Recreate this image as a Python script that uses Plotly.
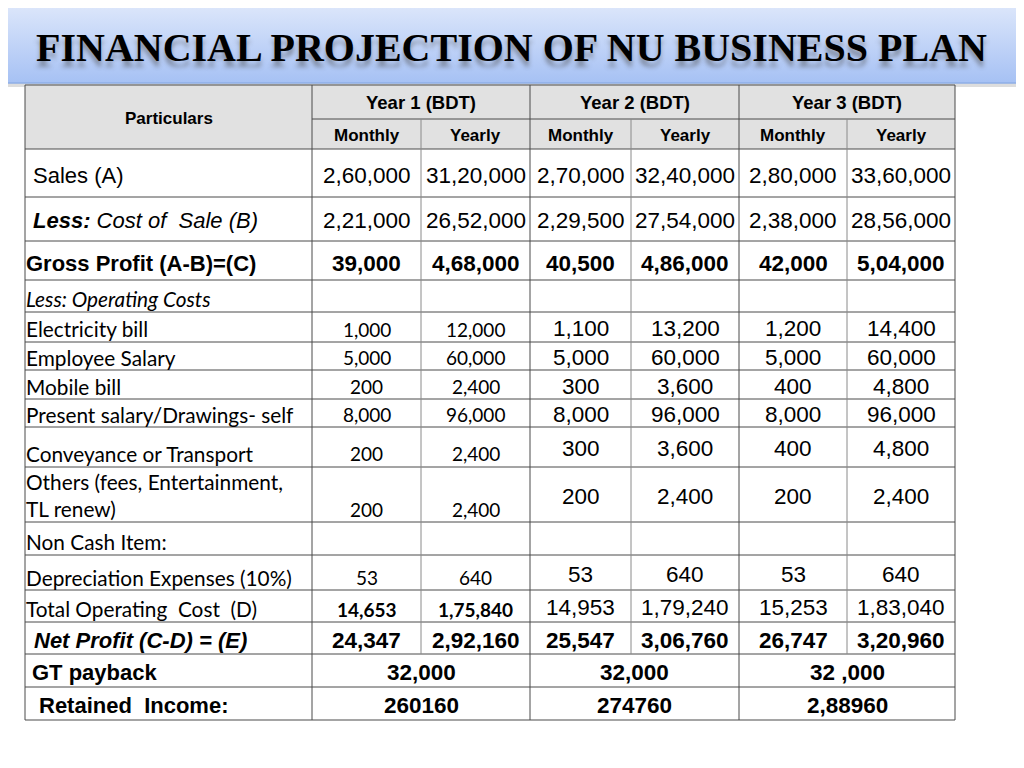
import plotly.graph_objects as go

# ---- data ----
title = "FINANCIAL PROJECTION OF NU BUSINESS PLAN"
years = ["Year 1 (BDT)", "Year 2 (BDT)", "Year 3 (BDT)"]
periods = ["Monthly", "Yearly"]

row_labels = [
    "Sales (A)",
    "<b><i>Less:</i></b><i> Cost of  Sale (B)</i>",
    "Gross Profit (A-B)=(C)",
    "Less: Operating Costs",
    "Electricity bill",
    "Employee Salary",
    "Mobile bill",
    "Present salary/Drawings- self",
    "Conveyance or Transport",
    "Others (fees, Entertainment,<br>TL renew)",
    "Non Cash Item:",
    "Depreciation Expenses (10%)",
    "Total Operating  Cost  (D)",
    "Net Profit (C-D) = (E)",
    "GT payback",
    "Retained  Income:",
]

y1_monthly = ["2,60,000", "2,21,000", "39,000", "", "1,000", "5,000", "200", "8,000",
              "200", "200", "", "53", "14,653", "24,347"]
y1_yearly = ["31,20,000", "26,52,000", "4,68,000", "", "12,000", "60,000", "2,400", "96,000",
             "2,400", "2,400", "", "640", "1,75,840", "2,92,160"]
y2_monthly = ["2,70,000", "2,29,500", "40,500", "", "1,100", "5,000", "300", "8,000",
              "300", "200", "", "53", "14,953", "25,547"]
y2_yearly = ["32,40,000", "27,54,000", "4,86,000", "", "13,200", "60,000", "3,600", "96,000",
             "3,600", "2,400", "", "640", "1,79,240", "3,06,760"]
y3_monthly = ["2,80,000", "2,38,000", "42,000", "", "1,200", "5,000", "400", "8,000",
              "400", "200", "", "53", "15,253", "26,747"]
y3_yearly = ["33,60,000", "28,56,000", "5,04,000", "", "14,400", "60,000", "4,800", "96,000",
             "4,800", "2,400", "", "640", "1,83,040", "3,20,960"]
gt_payback = ["32,000", "32,000", "32 ,000"]
retained_income = ["260160", "274760", "2,88960"]

# ---- layout of the table (page pixels) ----
col_edges = [25, 312, 421, 530, 631, 739, 847, 955]
row_edges = [85, 119, 149, 197, 241, 280, 312, 342, 370, 399, 427, 467, 522, 555, 590,
             622, 654, 687, 720]

# the page body has an 8px margin, so the figure starts at (8, 8)
PAGE_OFF = 8
PAD = 3  # annotation inner padding

ARIAL = "Liberation Sans, Arial"
CALI = "Lato, Carlito, Calibri"
NUM = 22.5
# per body row: label (font, size, bold, italic, x, y), year-1 style, years-2/3 style
row_style = [
    (ARIAL, 22, False, False, 34, 175, (ARIAL, NUM, False, 175), (ARIAL, NUM, False, 175)),
    (ARIAL, 22, False, False, 34, 220, (ARIAL, NUM, False, 220), (ARIAL, NUM, False, 220)),
    (ARIAL, 22, True, False, 27, 263, (ARIAL, NUM, True, 263), (ARIAL, NUM, True, 263)),
    (CALI, 20.8, False, True, 27, 298, None, None),
    (CALI, 20.8, False, False, 27, 328, (CALI, 19, False, 329), (ARIAL, NUM, False, 328)),
    (CALI, 20.8, False, False, 27, 357, (CALI, 19, False, 357), (ARIAL, NUM, False, 357)),
    (CALI, 20.8, False, False, 27, 386, (CALI, 19, False, 386), (ARIAL, NUM, False, 386)),
    (CALI, 20.8, False, False, 27, 414, (CALI, 19, False, 414), (ARIAL, NUM, False, 414)),
    (CALI, 20.8, False, False, 27, 453, (CALI, 19, False, 453), (ARIAL, NUM, False, 448)),
    (CALI, 20.8, False, False, 27, 495, (CALI, 19, False, 509), (ARIAL, NUM, False, 496)),
    (CALI, 20.8, False, False, 27, 541, None, None),
    (CALI, 20.8, False, False, 27, 577, (CALI, 19, False, 577), (ARIAL, NUM, False, 574)),
    (CALI, 20.8, False, False, 27, 608, (CALI, 19, True, 609), (ARIAL, NUM, False, 607)),
    (ARIAL, 22, True, True, 35, 640, (ARIAL, NUM, True, 640), (ARIAL, NUM, True, 640)),
    (ARIAL, 22, True, False, 33, 672, None, None),
    (ARIAL, 22, True, False, 40, 705, None, None),
]

LINE = "#4a4a4a"
INNER = "#8a8a8a"
HEAD_FILL = "#e1e1e1"

fig = go.Figure()

# title bar with vertical gradient
bar_x = [0, 1021, 1021, 0, 0]
bar_y = [0, 0, 83, 83, 0]
fig.add_trace(go.Scatter(
    x=bar_x, y=bar_y, mode="lines", fill="toself",
    line=dict(color="#8eaee6", width=1.5),
    fillgradient=dict(type="vertical", start=0, stop=83,
                      colorscale=[[0, "#e0e9fb"], [1, "#a6c1f4"]]),
    hoverinfo="skip", showlegend=False,
))

shapes = []
annotations = []

# soft shadow under the bar
shapes.append(dict(type="rect", x0=0, x1=1021, y0=83, y1=87, line_width=0,
                   fillcolor="rgba(120,120,120,0.25)", layer="below"))

# header fill
shapes.append(dict(type="rect", x0=col_edges[0], x1=col_edges[-1], y0=row_edges[0],
                   y1=row_edges[2], line_width=0, fillcolor=HEAD_FILL, layer="below"))

# horizontal rules
for i, y in enumerate(row_edges):
    x0 = col_edges[1] if i == 1 else col_edges[0]
    shapes.append(dict(type="line", x0=x0, x1=col_edges[-1], y0=y, y1=y,
                       line=dict(color=LINE, width=1)))

# vertical rules
for j, x in enumerate(col_edges):
    if j in (0, 1, 3, 5, 7):
        shapes.append(dict(type="line", x0=x, x1=x, y0=row_edges[0], y1=row_edges[-1],
                           line=dict(color=LINE, width=1)))
    else:
        shapes.append(dict(type="line", x0=x, x1=x, y0=row_edges[1], y1=row_edges[-3],
                           line=dict(color=INNER, width=1)))


def txt(text, x, y, family, size, bold=False, italic=False, xanchor="center"):
    annotations.append(dict(
        text=text, x=x, y=y, xref="x", yref="y", showarrow=False,
        xanchor=xanchor, yanchor="middle", align=xanchor if xanchor != "center" else "center",
        font=dict(family=family, size=size, color="#000000",
                  weight="bold" if bold else "normal",
                  style="italic" if italic else "normal"),
    ))


# title
annotations.append(dict(
    text=title, x=511, y=47, xref="x", yref="y", showarrow=False,
    xanchor="center", yanchor="middle",
    font=dict(family="Liberation Serif, Times New Roman, serif", size=40,
              color="#000000", weight="bold",
              shadow="0px 6px 4px rgba(70,70,70,0.45)"),
))

# header texts
txt("Particulars", (col_edges[0] + col_edges[1]) / 2, 118, ARIAL, 17, bold=True)
for k, yr in enumerate(years):
    xa, xb = col_edges[1 + 2 * k], col_edges[3 + 2 * k]
    txt(yr, (xa + xb) / 2, 102, ARIAL, 18.5, bold=True)
    for p, per in enumerate(periods):
        xc = (col_edges[1 + 2 * k + p] + col_edges[2 + 2 * k + p]) / 2
        txt(per, xc, 135, ARIAL, 17, bold=True)

# body
columns = [y1_monthly, y1_yearly, y2_monthly, y2_yearly, y3_monthly, y3_yearly]
for r, label in enumerate(row_labels):
    fam, size, bold, italic, lx, ly, s1, s23 = row_style[r]
    txt(label, lx - PAD, ly, fam, size, bold=bold, italic=italic, xanchor="left")
    if r < len(y1_monthly):
        for c, col in enumerate(columns):
            val = col[r]
            if not val:
                continue
            st = s1 if c < 2 else s23
            xc = (col_edges[1 + c] + col_edges[2 + c]) / 2
            txt(val, xc, st[3], st[0], st[1], bold=st[2])

# merged rows
for r, vals in ((14, gt_payback), (15, retained_income)):
    ly = row_style[r][5]
    for k, v in enumerate(vals):
        xa, xb = col_edges[1 + 2 * k], col_edges[3 + 2 * k]
        txt(v, (xa + xb) / 2, ly, ARIAL, NUM, bold=True)

fig.update_layout(
    width=1024 - PAGE_OFF, height=768 - PAGE_OFF,
    margin=dict(l=0, r=0, t=0, b=0),
    paper_bgcolor="#ffffff", plot_bgcolor="#ffffff",
    xaxis=dict(range=[PAGE_OFF, 1024], visible=False, fixedrange=True),
    yaxis=dict(range=[768, PAGE_OFF], visible=False, fixedrange=True),
    shapes=shapes, annotations=annotations, showlegend=False,
)

fig.write_html("out.html")
